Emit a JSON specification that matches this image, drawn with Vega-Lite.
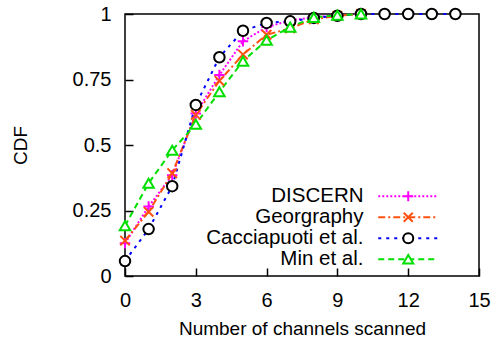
{
  "$schema": "https://vega.github.io/schema/vega-lite/v6.json",
  "width": 354,
  "height": 262,
  "autosize": {"type": "none"},
  "padding": {"left": 125, "top": 14, "right": 21, "bottom": 68},
  "background": "white",
  "config": {
    "view": {"stroke": "black", "strokeWidth": 1.5},
    "font": "Liberation Sans",
    "axis": {"domain": false, "grid": false, "tickColor": "black", "tickWidth": 1.5, "tickSize": -8, "labelFont": "Liberation Sans", "labelFontSize": 20, "labelColor": "black", "labelFlush": false, "labelOverlap": false, "titleFont": "Liberation Sans", "titleFontSize": 19, "titleFontWeight": "normal", "titleColor": "black"}
  },
  "data": {
    "values": [
      {"series": "DISCERN", "x": 0, "cdf": 0.125},
      {"series": "DISCERN", "x": 1, "cdf": 0.265},
      {"series": "DISCERN", "x": 2, "cdf": 0.385},
      {"series": "DISCERN", "x": 3, "cdf": 0.62},
      {"series": "DISCERN", "x": 4, "cdf": 0.767},
      {"series": "DISCERN", "x": 5, "cdf": 0.896},
      {"series": "DISCERN", "x": 6, "cdf": 0.95},
      {"series": "DISCERN", "x": 7, "cdf": 0.975},
      {"series": "DISCERN", "x": 8, "cdf": 0.988},
      {"series": "DISCERN", "x": 9, "cdf": 0.995},
      {"series": "DISCERN", "x": 10, "cdf": 1},
      {"series": "Georgraphy", "x": 0, "cdf": 0.135},
      {"series": "Georgraphy", "x": 1, "cdf": 0.245},
      {"series": "Georgraphy", "x": 2, "cdf": 0.392},
      {"series": "Georgraphy", "x": 3, "cdf": 0.615},
      {"series": "Georgraphy", "x": 4, "cdf": 0.745},
      {"series": "Georgraphy", "x": 5, "cdf": 0.845},
      {"series": "Georgraphy", "x": 6, "cdf": 0.921},
      {"series": "Georgraphy", "x": 7, "cdf": 0.945},
      {"series": "Georgraphy", "x": 8, "cdf": 0.98},
      {"series": "Georgraphy", "x": 9, "cdf": 0.993},
      {"series": "Georgraphy", "x": 10, "cdf": 1},
      {"series": "Cacciapuoti et al.", "x": 0, "cdf": 0.057},
      {"series": "Cacciapuoti et al.", "x": 1, "cdf": 0.179},
      {"series": "Cacciapuoti et al.", "x": 2, "cdf": 0.343},
      {"series": "Cacciapuoti et al.", "x": 3, "cdf": 0.653},
      {"series": "Cacciapuoti et al.", "x": 4, "cdf": 0.835},
      {"series": "Cacciapuoti et al.", "x": 5, "cdf": 0.936},
      {"series": "Cacciapuoti et al.", "x": 6, "cdf": 0.966},
      {"series": "Cacciapuoti et al.", "x": 7, "cdf": 0.972},
      {"series": "Cacciapuoti et al.", "x": 8, "cdf": 0.985},
      {"series": "Cacciapuoti et al.", "x": 9, "cdf": 0.993},
      {"series": "Cacciapuoti et al.", "x": 10, "cdf": 1},
      {"series": "Cacciapuoti et al.", "x": 11, "cdf": 1},
      {"series": "Cacciapuoti et al.", "x": 12, "cdf": 1},
      {"series": "Cacciapuoti et al.", "x": 13, "cdf": 1},
      {"series": "Cacciapuoti et al.", "x": 14, "cdf": 1},
      {"series": "Min et al.", "x": 0, "cdf": 0.192},
      {"series": "Min et al.", "x": 1, "cdf": 0.354},
      {"series": "Min et al.", "x": 2, "cdf": 0.48},
      {"series": "Min et al.", "x": 3, "cdf": 0.579},
      {"series": "Min et al.", "x": 4, "cdf": 0.703},
      {"series": "Min et al.", "x": 5, "cdf": 0.82},
      {"series": "Min et al.", "x": 6, "cdf": 0.9},
      {"series": "Min et al.", "x": 7, "cdf": 0.95},
      {"series": "Min et al.", "x": 8, "cdf": 0.987},
      {"series": "Min et al.", "x": 9, "cdf": 0.995},
      {"series": "Min et al.", "x": 10, "cdf": 1}
    ]
  },
  "encoding": {
    "x": {"field": "x", "type": "quantitative", "scale": {"domain": [0, 15], "nice": false, "zero": false},
      "axis": {"values": [0, 3, 6, 9, 12, 15], "labelExpr": "'' + datum.value", "labelPadding": 22, "title": "Number of channels scanned", "titlePadding": 9}},
    "y": {"field": "cdf", "type": "quantitative", "scale": {"domain": [0, 1], "nice": false},
      "axis": {"values": [0, 0.25, 0.5, 0.75, 1], "labelExpr": "'' + datum.value", "labelPadding": 22, "title": "CDF", "titlePadding": 42}}
  },
  "layer": [
    {
      "mark": {"type": "line", "strokeWidth": 2},
      "encoding": {
        "color": {"field": "series", "type": "nominal",
          "scale": {"domain": ["DISCERN", "Georgraphy", "Cacciapuoti et al.", "Min et al."], "range": ["#ff00ff", "#ff5010", "#0000ff", "#00e000"]},
          "legend": {"orient": "none", "legendX": 273, "legendY": 172, "title": null, "padding": 0, "rowPadding": 0, "symbolType": "M-6,0H6", "symbolSize": 100, "symbolStrokeWidth": 2, "labelAlign": "right", "labelOffset": -55, "labelFont": "Liberation Sans", "labelFontSize": 20.5, "labelColor": "black", "labelLimit": 0}},
        "strokeDash": {"field": "series", "type": "nominal",
          "scale": {"domain": ["DISCERN", "Georgraphy", "Cacciapuoti et al.", "Min et al."], "range": [[2, 2], [7, 3, 2, 3], [3, 5], [6, 4]]},
          "legend": {"orient": "none", "legendX": 273, "legendY": 172, "title": null, "padding": 0, "rowPadding": 0, "symbolType": "M-6,0H6", "symbolSize": 100, "symbolStrokeWidth": 2, "labelAlign": "right", "labelOffset": -55, "labelFont": "Liberation Sans", "labelFontSize": 20.5, "labelColor": "black", "labelLimit": 0}}
      }
    },
    {
      "mark": {"type": "point", "filled": false, "fill": "white", "fillOpacity": 1, "strokeWidth": 2, "size": 110, "opacity": 1},
      "encoding": {
        "stroke": {"field": "series", "type": "nominal", "sort": ["DISCERN", "Georgraphy", "Cacciapuoti et al.", "Min et al."],
          "scale": {"range": ["#ff00ff", "#ff5010", "#000000", "#00e000"]},
          "legend": null},
        "shape": {"field": "series", "type": "nominal", "sort": ["DISCERN", "Georgraphy", "Cacciapuoti et al.", "Min et al."],
          "scale": {"range": ["M-1,0H1M0,-1V1", "M-0.9,-0.9L0.9,0.9M-0.9,0.9L0.9,-0.9", "circle", "triangle-up"]},
          "legend": {"orient": "none", "legendX": 273, "legendY": 172, "title": null, "padding": 0, "rowPadding": 0, "symbolSize": 100, "symbolStrokeWidth": 2, "symbolFillColor": "white", "symbolOpacity": 1, "labelAlign": "right", "labelOffset": -55, "labelFont": "Liberation Sans", "labelFontSize": 20.5, "labelOpacity": 0, "labelLimit": 0,
            "encoding": {"symbols": {"stroke": {"value": {"expr": "datum.value == 'DISCERN' ? '#ff00ff' : datum.value == 'Georgraphy' ? '#ff5010' : datum.value == 'Min et al.' ? '#00e000' : '#000000'"}}, "fill": {"value": "white"}, "opacity": {"value": 1}}}}}
      }
    }
  ]
}
